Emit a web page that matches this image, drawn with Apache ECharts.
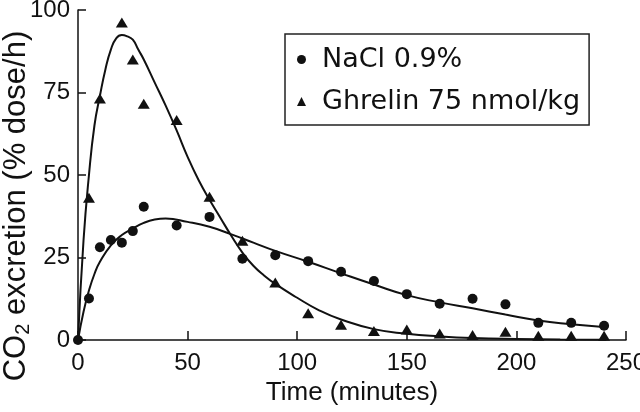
<!DOCTYPE html>
<html>
<head>
<meta charset="utf-8">
<script src="https://cdn.jsdelivr.net/npm/echarts@6/dist/echarts.min.js"></script>
<style>
html,body{margin:0;padding:0;background:#fff;}
#chart{width:640px;height:412px;}
</style>
</head>
<body>
<div id="chart"></div>
<script>
// Measured sample points
var salineTimes = [0, 5, 10, 15, 20, 25, 30, 45, 60, 75, 90, 105, 120, 135, 150, 165, 180, 195, 210, 225, 240];
var salineValues = [0, 12.6, 28.1, 30.3, 29.5, 33, 40.4, 34.7, 37.3, 24.6, 25.7, 23.9, 20.7, 17.9, 13.9, 11, 12.5, 10.8, 5.2, 5.2, 4.3];
var ghrelinTimes = [5, 10, 20, 25, 30, 45, 60, 75, 90, 105, 120, 135, 150, 165, 180, 195, 210, 225, 240];
var ghrelinValues = [43.1, 73.2, 96.2, 85, 71.6, 66.7, 43.4, 30.1, 17.4, 8.1, 4.6, 2.7, 3.2, 2, 1.5, 2.5, 1.3, 1.3, 1.3];

// Fitted curves
var salineCurveT = [0, 2.5, 5, 7.5, 10, 15, 20, 25, 30, 35, 40, 50, 60, 70, 80, 90, 105, 120, 135, 150, 165, 180, 195, 210, 225, 241];
var salineCurveV = [0, 8.5, 15, 20, 23.7, 28.7, 31.8, 33.8, 35.5, 36.5, 36.8, 35.8, 34.3, 32, 29.5, 27, 23.7, 20.2, 16.8, 13.6, 11.4, 9.6, 7.7, 5.9, 4.8, 3.9];
var ghrelinCurveT = [0, 2.5, 5, 7.5, 10, 12.5, 15, 17.5, 20, 22.5, 25, 27.5, 30, 35, 40, 45, 50, 55, 60, 65, 70, 75, 80, 85, 90, 100, 110, 120, 135, 150, 165, 180, 200, 220, 241];
var ghrelinCurveV = [0, 30, 50, 65, 74, 82, 88, 91.5, 92.4, 92, 91, 88, 85, 78, 71, 63.5, 55.5, 48.5, 42.5, 37, 31.5, 26.5, 22.5, 19.5, 17, 12.8, 9, 6.2, 3.3, 1.9, 1.1, 0.6, 0.3, 0.15, 0.1];

// Axis ticks
var xTicks = [0, 50, 100, 150, 200, 250];
var yTicks = [0, 25, 50, 75, 100];

var seriesNames = ['NaCl 0.9%', 'Ghrelin 75 nmol/kg'];

function zip(a, b) { return a.map(function (v, i) { return [v, b[i]]; }); }

var FONT = 'Liberation Sans';
var LFONT = 'DejaVu Sans';
var INK = '#111';

var chart = echarts.init(document.getElementById('chart'));
chart.setOption({
  backgroundColor: '#fff',
  animation: false,
  textStyle: { fontFamily: FONT, color: INK },
  grid: { left: 78, right: 14, top: 10, bottom: 72, containLabel: false, outerBoundsMode: 'none' },
  legend: {
    data: seriesNames,
    orient: 'vertical',
    left: 285,
    top: 34,
    padding: [12, 9, 10, 12],
    itemGap: 15,
    itemWidth: 9,
    itemHeight: 9,
    borderColor: '#222',
    borderWidth: 1.5,
    textStyle: { fontSize: 27, color: INK, fontFamily: LFONT, padding: [0, 0, 0, 11] }
  },
  xAxis: {
    type: 'value',
    min: xTicks[0],
    max: xTicks[xTicks.length - 1],
    interval: xTicks[1] - xTicks[0],
    name: 'Time (minutes)',
    nameLocation: 'middle',
    nameGap: 40,
    nameMoveOverlap: false,
    nameTextStyle: { fontSize: 26, color: INK, fontFamily: FONT },
    axisLine: { lineStyle: { color: INK, width: 1.5 } },
    axisTick: { inside: true, length: 9, lineStyle: { color: INK, width: 1.5 } },
    axisLabel: { fontSize: 24, color: INK, margin: 11, fontFamily: FONT },
    splitLine: { show: false }
  },
  yAxis: {
    type: 'value',
    min: yTicks[0],
    max: yTicks[yTicks.length - 1],
    interval: yTicks[1] - yTicks[0],
    name: '{n|CO}{s|2}{n| excretion (% dose/h)}',
    nameLocation: 'middle',
    nameGap: 45,
    nameMoveOverlap: false,
    nameTextStyle: {
      padding: [0, 62, 0, 0],
      rich: {
        n: { fontSize: 31, lineHeight: 34, color: INK, fontFamily: FONT },
        s: { fontSize: 20, lineHeight: 20, verticalAlign: 'bottom', color: INK, fontFamily: FONT }
      }
    },
    axisLine: { show: true, lineStyle: { color: INK, width: 1.5 } },
    axisTick: { show: true, inside: true, length: 8, lineStyle: { color: INK, width: 1.5 } },
    axisLabel: { fontSize: 24, color: INK, margin: 8, fontFamily: FONT },
    splitLine: { show: false }
  },
  series: [
    {
      name: 'NaCl fit', type: 'line', data: zip(salineCurveT, salineCurveV),
      showSymbol: false, symbol: 'none', smooth: 0.5, silent: true,
      lineStyle: { color: INK, width: 2 }, z: 2
    },
    {
      name: 'Ghrelin fit', type: 'line', data: zip(ghrelinCurveT, ghrelinCurveV),
      showSymbol: false, symbol: 'none', smooth: 0.5, silent: true,
      lineStyle: { color: INK, width: 2 }, z: 2
    },
    {
      name: seriesNames[0], type: 'scatter', data: zip(salineTimes, salineValues),
      symbol: 'circle', symbolSize: 10, clip: false,
      itemStyle: { color: INK, opacity: 1 }, z: 3
    },
    {
      name: seriesNames[1], type: 'scatter', data: zip(ghrelinTimes, ghrelinValues),
      symbol: 'triangle', symbolSize: [12, 10], clip: false,
      itemStyle: { color: INK, opacity: 1 }, z: 3
    }
  ]
});
</script>
</body>
</html>
